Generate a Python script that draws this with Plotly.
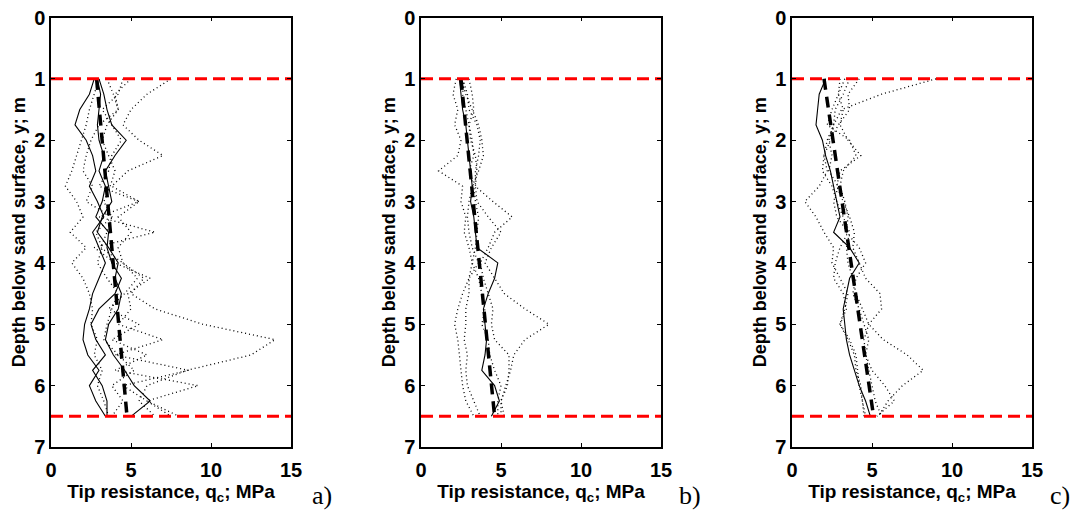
import plotly.graph_objects as go

# ---------------- data ----------------
DEPTH = [1.0, 1.25, 1.5, 1.75, 2.0, 2.25, 2.5, 2.75, 3.0, 3.25, 3.5, 3.75,
         4.0, 4.25, 4.5, 4.75, 5.0, 5.25, 5.5, 5.75, 6.0, 6.25, 6.5]

# panel a)
A_SOLID = [
    [2.7, 2.4, 1.8, 1.5, 2.2, 2.6, 2.8, 2.4, 2.9, 3.3, 2.6, 3.0, 3.4, 3.0, 2.6, 2.4, 2.1, 2.0, 2.3, 3.0, 2.4, 2.8, 3.4],
    [2.9, 3.1, 3.0, 2.9, 3.0, 3.3, 3.0, 3.4, 3.2, 2.8, 3.6, 3.5, 3.8, 4.4, 4.0, 3.0, 2.5, 2.8, 3.4, 2.6, 3.2, 3.5, 3.5],
    [3.0, 3.3, 3.5, 3.8, 4.7, 4.0, 3.4, 3.6, 3.8, 3.2, 2.9, 3.6, 4.2, 4.0, 4.4, 4.2, 3.6, 3.4, 3.9, 4.6, 5.2, 6.2, 5.0],
]
A_DOTTED = [
    [7.5, 6.0, 5.0, 4.5, 5.5, 7.0, 4.8, 3.8, 5.5, 4.2, 5.0, 4.2, 4.5, 5.8, 5.0, 6.5, 9.5, 14.0, 12.5, 8.5, 6.0, 5.5, 6.5],
    [3.0, 2.7, 2.4, 2.2, 1.9, 1.6, 1.3, 0.9, 1.6, 2.0, 1.2, 2.2, 1.3, 2.0, 2.4, 2.6, 2.5, 2.9, 2.7, 3.2, 2.9, 3.3, 3.6],
    [4.5, 4.2, 3.2, 3.8, 4.4, 3.8, 3.6, 3.0, 5.5, 3.0, 6.5, 2.7, 4.0, 6.2, 4.8, 5.0, 4.2, 7.0, 4.0, 8.6, 4.5, 6.0, 8.0],
    [3.5, 3.9, 4.2, 3.5, 3.2, 3.6, 4.0, 3.7, 3.3, 3.8, 3.5, 3.1, 4.5, 5.4, 4.6, 3.6, 5.5, 3.8, 6.0, 4.0, 9.2, 6.0, 7.5],
    [5.0, 4.0, 4.2, 3.0, 2.5, 2.2, 2.0, 2.6, 2.2, 3.8, 2.8, 3.2, 2.9, 3.5, 4.2, 3.8, 3.5, 3.3, 4.2, 5.2, 3.8, 4.5, 3.8],
]
A_TREND = [2.85, 4.75]

# panel b)
B_SOLID = [
    [2.4, 2.5, 2.6, 2.8, 2.9, 3.0, 3.1, 3.2, 3.1, 3.3, 3.4, 3.5, 4.8, 4.6, 4.2, 3.9, 4.0, 4.1, 4.0, 3.8, 4.6, 4.9, 4.4],
]
B_DOTTED = [
    [2.2, 2.0, 2.3, 2.1, 2.5, 2.3, 1.1, 2.6, 2.5, 2.8, 2.7, 3.0, 3.2, 3.0, 2.6, 2.3, 2.1, 2.3, 2.4, 2.5, 2.6, 2.8, 3.3],
    [2.5, 2.8, 3.2, 3.6, 3.8, 3.9, 3.6, 3.2, 3.0, 2.9, 3.0, 3.2, 3.6, 3.0, 3.0, 2.8, 2.8, 2.7, 2.9, 2.8, 2.9, 3.3, 3.7],
    [3.0, 3.2, 3.3, 3.0, 3.1, 3.4, 3.5, 3.4, 4.5, 5.7, 4.6, 4.2, 3.7, 3.9, 4.2, 4.5, 4.4, 4.6, 5.5, 5.5, 5.4, 5.0, 5.2],
    [2.6, 2.9, 3.0, 3.5, 3.7, 3.6, 3.4, 3.4, 3.5, 4.2, 5.0, 4.4, 4.0, 4.6, 5.2, 6.5, 8.0, 6.5, 5.8, 5.6, 5.3, 5.0, 5.0],
    [2.7, 2.6, 2.8, 3.0, 3.2, 3.3, 3.0, 3.3, 3.4, 3.6, 3.5, 3.4, 3.2, 3.6, 3.8, 4.0, 3.8, 4.2, 4.3, 4.6, 5.0, 4.8, 4.8],
]
B_TREND = [2.5, 4.6]

# panel c)
C_SOLID = [
    [2.1, 1.7, 1.6, 1.5, 1.9, 2.1, 2.4, 2.6, 2.8, 3.0, 2.6, 3.6, 4.2, 3.6, 3.4, 3.2, 3.3, 3.4, 3.6, 3.9, 4.2, 4.6, 4.9],
]
C_DOTTED = [
    [9.0, 5.6, 3.1, 2.6, 2.2, 2.0, 2.2, 1.7, 0.8, 1.5, 2.0, 2.6, 2.5, 3.0, 3.5, 3.3, 3.0, 3.6, 4.0, 4.1, 4.2, 4.4, 4.6],
    [3.0, 2.9, 3.2, 3.0, 3.5, 4.3, 3.0, 2.8, 3.2, 3.6, 3.9, 3.8, 4.2, 4.6, 5.5, 5.6, 4.8, 4.5, 4.6, 4.8, 5.0, 5.2, 5.6],
    [3.6, 3.2, 2.7, 2.6, 2.3, 2.5, 2.3, 2.9, 2.6, 2.8, 3.5, 3.0, 2.7, 2.6, 3.2, 3.4, 3.0, 3.5, 3.9, 4.0, 4.3, 4.4, 4.5],
    [4.2, 3.5, 3.6, 2.9, 2.4, 2.0, 1.9, 2.5, 2.8, 3.2, 3.6, 3.4, 3.5, 3.8, 4.0, 4.4, 4.8, 5.7, 7.2, 8.2, 6.9, 6.0, 5.4],
    [3.3, 2.9, 2.5, 2.2, 3.6, 4.0, 3.2, 3.0, 3.3, 3.5, 3.4, 4.2, 4.6, 4.0, 3.8, 4.2, 4.5, 4.8, 4.6, 5.0, 5.8, 6.4, 5.3],
]
C_TREND = [2.0, 5.1]

TREND_DEPTH = [1.0, 6.5]
BOUNDARIES = [1.0, 6.5]
X_RANGE = [0, 15]
PANEL_LABELS = ["a)", "b)", "c)"]

PANELS = [
    (A_SOLID, A_DOTTED, A_TREND),
    (B_SOLID, B_DOTTED, B_TREND),
    (C_SOLID, C_DOTTED, C_TREND),
]

# ---------------- figure ----------------
W, H = 1089, 516
OFF = 8  # page body margin
fig = go.Figure()

def px_x(p):
    return (p - OFF) / W

def px_y(p):
    return 1 - (p - OFF) / H

x_domains = [[px_x(51), px_x(291)], [px_x(421), px_x(661)], [px_x(792), px_x(1032)]]
y_domain = [px_y(447), px_y(17.5)]

font_fam = "Liberation Sans"

for i, (solids, dots, trend) in enumerate(PANELS):
    xa = "x" if i == 0 else f"x{i+1}"
    ya = "y" if i == 0 else f"y{i+1}"
    for q in dots:
        fig.add_trace(go.Scatter(x=q, y=DEPTH, mode="lines", xaxis=xa, yaxis=ya,
                                 line=dict(color="black", width=1.3, dash="1px,3px"),
                                 showlegend=False, hoverinfo="skip"))
    for q in solids:
        fig.add_trace(go.Scatter(x=q, y=DEPTH, mode="lines", xaxis=xa, yaxis=ya,
                                 line=dict(color="black", width=1.1),
                                 showlegend=False, hoverinfo="skip"))
    fig.add_trace(go.Scatter(x=trend, y=TREND_DEPTH, mode="lines", xaxis=xa, yaxis=ya,
                             line=dict(color="black", width=3.5, dash="11px,7px"),
                             showlegend=False, hoverinfo="skip"))
    for b in BOUNDARIES:
        fig.add_trace(go.Scatter(x=X_RANGE, y=[b, b], mode="lines", xaxis=xa, yaxis=ya,
                                 line=dict(color="#ff0000", width=3, dash="12px,6px"),
                                 showlegend=False, hoverinfo="skip"))

    axis_common = dict(showline=True, linecolor="black", linewidth=1.5, mirror="ticks",
                       ticks="inside", ticklen=4, tickwidth=1, tickcolor="black",
                       showgrid=False, zeroline=False, automargin=False,
                       ticklabeloverflow="allow",
                       tickfont=dict(family=font_fam, size=20, color="black", weight="bold"))
    xkey = "xaxis" if i == 0 else f"xaxis{i+1}"
    ykey = "yaxis" if i == 0 else f"yaxis{i+1}"
    fig.update_layout(**{
        xkey: dict(domain=x_domains[i], range=X_RANGE, tickvals=[0, 5, 10, 15],
                   anchor=ya, ticklabelstandoff=4,
                   title=dict(text="Tip resistance, q<sub>c</sub>; MPa", standoff=2,
                              font=dict(family=font_fam, size=19, color="black", weight="bold")),
                   **axis_common),
        ykey: dict(domain=y_domain, range=[7, 0], tickvals=list(range(8)),
                   anchor=xa,
                   title=dict(text="Depth below sand surface, y; m", standoff=4,
                              font=dict(family=font_fam, size=18, color="black", weight="bold")),
                   **axis_common),
    })

label_x = [px_x(322), px_x(690), px_x(1060)]
for lx, lab in zip(label_x, PANEL_LABELS):
    fig.add_annotation(x=lx, y=px_y(495), xref="paper", yref="paper", text=lab,
                       showarrow=False, xanchor="center", yanchor="middle",
                       font=dict(family="Liberation Serif", size=26, color="black"))

fig.update_layout(width=W, height=H, margin=dict(l=0, r=0, t=0, b=0),
                  paper_bgcolor="white", plot_bgcolor="white", showlegend=False)

fig.write_html("out.html")
